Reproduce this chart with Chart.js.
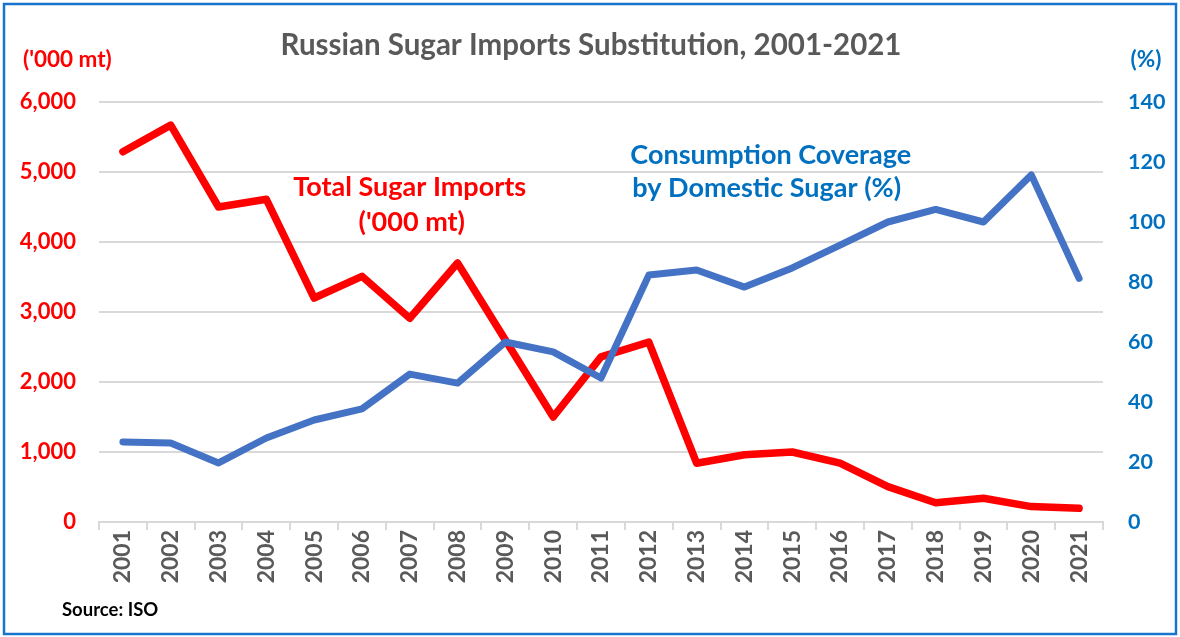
<!DOCTYPE html>
<html>
<head>
<meta charset="utf-8">
<script src="https://cdn.jsdelivr.net/npm/chart.js@4.4.0/dist/chart.umd.min.js"></script>
<style>
  html, body { margin: 0; padding: 0; background: #fff; }
  #box { position: relative; width: 1180px; height: 637px; }
</style>
</head>
<body>
<div id="box"><canvas id="sugarCanvas"></canvas></div>
<script>
// chart data
const years = ['2001', '2002', '2003', '2004', '2005', '2006', '2007', '2008', '2009', '2010', '2011',
  '2012', '2013', '2014', '2015', '2016', '2017', '2018', '2019', '2020', '2021'];
// total sugar imports, '000 mt
const importsKt = [5290, 5670, 4500, 4610, 3200, 3510, 2910, 3700, 2600, 1500, 2360,
  2570, 840, 960, 1000, 840, 505, 275, 340, 220, 195];
// consumption coverage by domestic sugar, %
const coveragePct = [26.7, 26.3, 19.7, 28, 34, 37.7, 49.3, 46.3, 60, 56.7, 48,
  82.3, 84, 78.3, 84.7, 92.3, 100, 104.2, 100, 115.7, 81.2];

// axis ranges
const importsAxis = { min: 0, max: 6000, step: 1000 };
const coverageAxis = { min: 0, max: 140, step: 20 };

const RED = '#FF0000';
const BLUE_LINE = '#4472C4';
const BLUE_TEXT = '#0070C0';
const GREY = '#595959';
const GRID = '#D9D9D9';
const FONT = 'Lato';

// extra texts drawn on top of the chart
const extrasPlugin = {
  id: 'extras',
  afterDraw: (chart) => {
    const ctx = chart.ctx;
    const x = chart.scales.x;
    const yl = chart.scales.y;
    const yr = chart.scales.y1;
    ctx.save();

    // outer frame
    ctx.strokeStyle = '#1874CD';
    ctx.lineWidth = 2.5;
    ctx.strokeRect(4, 4, 1172, 630);

    ctx.textBaseline = 'middle';

    // title
    ctx.fillStyle = GREY;
    ctx.textAlign = 'center';
    ctx.font = 'bold 29.5px ' + FONT;
    ctx.fillText('Russian Sugar Imports Substitution, 2001-2021', 591, 45);

    // axis units
    ctx.font = 'bold 22.5px ' + FONT;
    ctx.fillStyle = RED;
    ctx.textAlign = 'left';
    ctx.fillText("('000 mt)", 23, 60);
    ctx.fillStyle = BLUE_TEXT;
    ctx.textAlign = 'center';
    ctx.fillText('(%)', 1146, 60);

    // series labels
    ctx.font = 'bold 27px ' + FONT;
    ctx.fillStyle = RED;
    ctx.textAlign = 'center';
    var tx = x.getPixelForValue(6);
    var ty = yl.getPixelForValue(4786);
    ctx.fillText('Total Sugar Imports', tx, ty);
    ctx.fillText("('000 mt)", tx + 2, ty + 35);

    ctx.fillStyle = BLUE_TEXT;
    var cx = x.getPixelForValue(13.55);
    var cy = yr.getPixelForValue(122.3);
    ctx.fillText('Consumption Coverage', cx, cy);
    ctx.fillText('by Domestic Sugar (%)', cx - 4, cy + 33);

    // source note
    ctx.font = 'bold 18.5px ' + FONT;
    ctx.fillStyle = '#000000';
    ctx.textAlign = 'left';
    ctx.fillText('Source: ISO', 62, 610);

    ctx.restore();
  }
};

const drawChart = () => {
  const data = {
    labels: years,
    datasets: [{
      label: 'Consumption Coverage by Domestic Sugar (%)',
      data: coveragePct,
      yAxisID: 'y1',
      borderColor: BLUE_LINE,
      backgroundColor: BLUE_LINE,
      borderWidth: 7,
      pointRadius: 0,
      borderJoinStyle: 'round',
      borderCapStyle: 'round',
      tension: 0,
      order: 0
    }, {
      label: "Total Sugar Imports ('000 mt)",
      data: importsKt,
      yAxisID: 'y',
      borderColor: RED,
      backgroundColor: RED,
      borderWidth: 7.5,
      pointRadius: 0,
      borderJoinStyle: 'round',
      borderCapStyle: 'round',
      tension: 0,
      order: 1
    }]
  };

  const options = {
    responsive: true,
    maintainAspectRatio: false,
    devicePixelRatio: 1,
    animation: false,
    layout: { padding: { top: 102, bottom: 0, left: 0, right: 0 } },
    plugins: {
      legend: { display: false },
      title: { display: false },
      tooltip: { enabled: false }
    },
    scales: {
      x: {
        type: 'category',
        offset: true,
        grid: {
          offset: true,
          drawOnChartArea: false,
          drawTicks: true,
          tickLength: 8,
          color: GRID,
          lineWidth: 2
        },
        border: { display: true, color: GRID, width: 2 },
        ticks: {
          autoSkip: false,
          minRotation: 90,
          maxRotation: 90,
          padding: 0,
          color: GREY,
          font: { family: FONT, weight: 'bold', size: 23 }
        },
        afterFit: (scale) => { scale.height = 115; }
      },
      y: {
        position: 'left',
        min: importsAxis.min,
        max: importsAxis.max,
        grid: { color: GRID, lineWidth: 2, drawTicks: false },
        border: { display: false },
        ticks: {
          stepSize: importsAxis.step,
          padding: 23,
          color: RED,
          font: { family: FONT, weight: 'bold', size: 22 },
          callback: (v) => v.toLocaleString('en-US')
        },
        afterFit: (scale) => { scale.width = 99; }
      },
      y1: {
        position: 'right',
        min: coverageAxis.min,
        max: coverageAxis.max,
        grid: { drawOnChartArea: false, drawTicks: false },
        border: { display: false },
        ticks: {
          stepSize: coverageAxis.step,
          padding: 25,
          color: BLUE_TEXT,
          font: { family: FONT, weight: 'bold', size: 21.5 }
        },
        afterFit: (scale) => { scale.width = 77; }
      }
    }
  };

  new Chart(document.getElementById('sugarCanvas'), {
    type: 'line',
    data: data,
    options: options,
    plugins: [extrasPlugin]
  });
};

document.fonts.load('bold 20px Lato').then(drawChart, drawChart);
</script>
</body>
</html>
